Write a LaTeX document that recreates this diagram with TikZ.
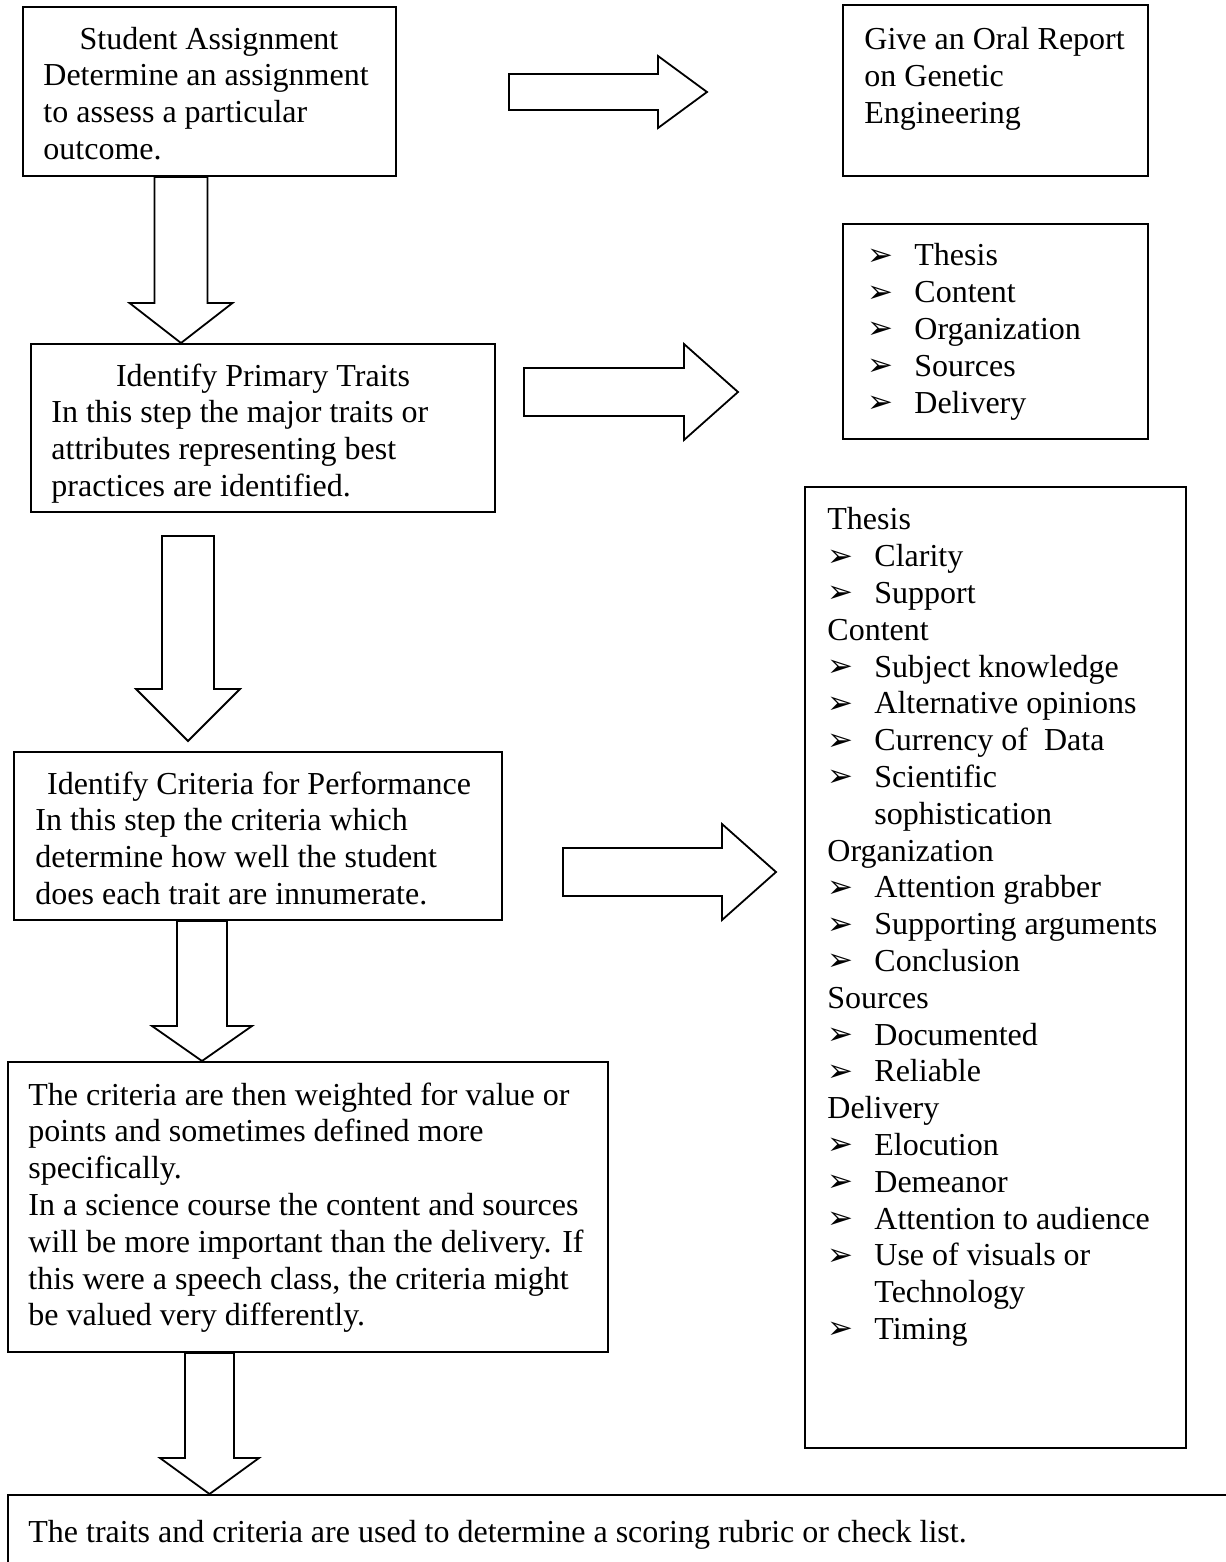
\documentclass[tikz,border=0pt]{standalone}
\usepackage{fontspec}
\setmainfont{Liberation Serif}
\newfontfamily\ArrowFont{DejaVu Sans}
\usepackage{tikz}
\usetikzlibrary{calc, fit}
\usepackage{xcolor}
\definecolor{LineBlack}{HTML}{000000}
\newcommand{\BodyFont}{\fontsize{16pt}{18.4pt}\selectfont}
\newcommand{\Pt}{\makebox[23.5pt][l]{\raisebox{0.3pt}{\ArrowFont\fontsize{15.5pt}{15.5pt}\selectfont ➢}}}
\newcommand{\Gap}{\hspace*{23.5pt}}
\tikzset{
  box/.style={draw=LineBlack, line width=1pt, inner sep=0pt},
  % placed at the first baseline: the strut makes the top sit 0.7 baselineskip above it
  txt/.style={anchor=north west, yshift=10.4pt, align=left, inner sep=0pt,
    font=\BodyFont, text=LineBlack, execute at begin node=\strut},
  title/.style={anchor=base, inner sep=0pt, font=\BodyFont, text=LineBlack},
  blockline/.style={draw=LineBlack, line width=0.9pt, fill=white, line join=miter}
}
% hollow block arrows: start, tip, shaft half width, head half width, head length
\newcommand{\DownBlock}[5]{%
  \draw[blockline] let \p1=#1, \p2=#2 in
    (\x1-#3,\y1) -- (\x1+#3,\y1) -- (\x1+#3,\y2+#5) -- (\x1+#4,\y2+#5)
    -- (\x1,\y2) -- (\x1-#4,\y2+#5) -- (\x1-#3,\y2+#5) -- cycle;}
\newcommand{\RightBlock}[5]{%
  \draw[blockline] let \p1=#1, \p2=#2 in
    (\x1,\y1+#3) -- (\x2-#5,\y1+#3) -- (\x2-#5,\y1+#4) -- (\x2,\y1)
    -- (\x2-#5,\y1-#4) -- (\x2-#5,\y1-#3) -- (\x1,\y1-#3) -- cycle;}

\begin{document}
\begin{tikzpicture}[x=0.5pt, y=-0.5pt]
  \useasboundingbox (0,0) rectangle (1225,1562);
  % left column: the steps
  \node[box, fit={(23,7) (396,176)}] (assign) {};
  \node[title] (assigntitle) at (209,50) {Student Assignment};
  \node[txt] (assignbody) at (43,85) {Determine an assignment\\to assess a particular\\outcome.};

  \node[box, fit={(31,344) (495,512)}] (traits) {};
  \node[title] (traitstitle) at (263,386) {Identify Primary Traits};
  \node[txt] (traitsbody) at (51,421) {In this step the major traits or\\attributes representing best\\practices are identified.};

  \node[box, fit={(14,752) (502,920)}] (criteria) {};
  \node[title] (criteriatitle) at (259,794) {Identify Criteria for Performance};
  \node[txt] (criteriabody) at (35,829) {In this step the criteria which\\determine how well the student\\does each trait are innumerate.};

  \node[box, fit={(8,1062) (608,1352)}] (weight) {};
  \node[txt] (weightbody) at (28,1103) {The criteria are then weighted for value or\\points and sometimes defined more\\specifically.\\In a science course the content and sources\\will be more important than the delivery. If\\this were a speech class, the criteria might\\be valued very differently.};

  % rubric box runs off the page edge
  \node[box, fit={(8,1495) (1240,1590)}] (rubric) {};
  \node[txt] (rubricbody) at (28,1537) {The traits and criteria are used to determine a scoring rubric or check list.};

  % right column: the example
  \node[box, fit={(843,5) (1148,176)}] (report) {};
  \node[txt] (reportbody) at (864,48) {Give an Oral Report\\on Genetic\\Engineering};

  \node[box, fit={(843,224) (1148,439)}] (traitlist) {};
  \node[txt] (traitlistbody) at (867,264) {\Pt Thesis\\\Pt Content\\\Pt Organization\\\Pt Sources\\\Pt Delivery};

  \node[box, fit={(805,487) (1186,1448)}] (critlist) {};
  \node[txt] (critlistbody) at (827,528) {Thesis\\\Pt Clarity\\\Pt Support\\Content\\\Pt Subject knowledge\\\Pt Alternative opinions\\\Pt Currency of~ Data\\\Pt Scientific\\\Gap sophistication\\Organization\\\Pt Attention grabber\\\Pt Supporting arguments\\\Pt Conclusion\\Sources\\\Pt Documented\\\Pt Reliable\\Delivery\\\Pt Elocution\\\Pt Demeanor\\\Pt Attention to audience\\\Pt Use of visuals or\\\Gap Technology\\\Pt Timing};

  % down arrows between the steps
  \DownBlock{(assign.south -| 181,0)}{(traits.north -| 181,0)}{13.25pt}{25.75pt}{20pt}
  \DownBlock{(188,536)}{(188,741)}{13pt}{26pt}{26pt}
  \DownBlock{(criteria.south -| 202,0)}{(weight.north -| 202,0)}{12.5pt}{25pt}{17.5pt}
  \DownBlock{(weight.south -| 209.5,0)}{(rubric.north -| 209.5,0)}{12.25pt}{24.75pt}{18pt}

  % right arrows to the example
  \RightBlock{(509,92)}{(707,92)}{9pt}{18pt}{24.5pt}
  \RightBlock{(524,392)}{(738,392)}{12pt}{24pt}{27pt}
  \RightBlock{(563,872)}{(776,872)}{12pt}{24pt}{27pt}
\end{tikzpicture}
\end{document}
